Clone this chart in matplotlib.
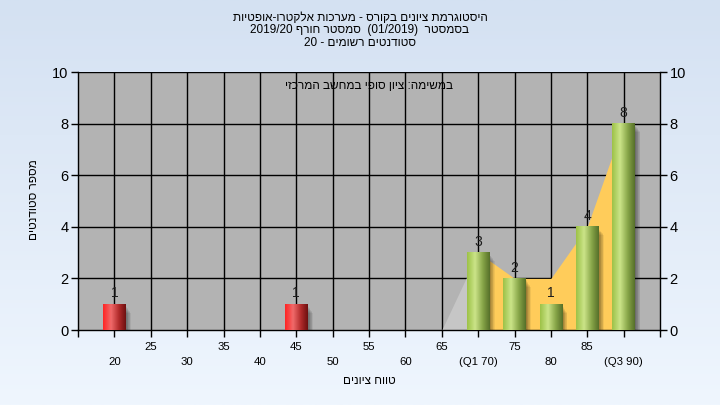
import re
import numpy as np
import matplotlib
matplotlib.use('Agg')
import matplotlib.pyplot as plt
from matplotlib.colors import LinearSegmentedColormap
from matplotlib.patches import Rectangle

plt.rcParams['font.family'] = ['Liberation Sans', 'DejaVu Sans']

# ---------------- data ----------------
title_lines = [
    "היסטוגרמת ציונים בקורס - מערכות אלקטרו-אופטיות",
    "בסמסטר  (01/2019)  סמסטר חורף 2019/20",
    "סטודנטים רשומים - 20",
]
note_text = "במשימה: ציון סופי במחשב המרכזי"
x_title = "טווח ציונים"
y_title = "מספר סטודנטים"

grades = [20, 45, 70, 75, 80, 85, 90]
counts = [1, 1, 3, 2, 1, 4, 8]
bar_kind = ['fail', 'fail', 'pass', 'pass', 'pass', 'pass', 'pass']

area_x = [65, 70, 75, 80, 85, 90]
area_y = [0, 3, 2, 2, 4, 8]
q1, q3 = 70, 90

x_tick_values = [20, 25, 30, 35, 40, 45, 50, 55, 60, 65, 70, 75, 80, 85, 90]
x_tick_labels = ['20', '25', '30', '35', '40', '45', '50', '55', '60', '65',
                 '(Q1 70)', '75', '80', '85', '(Q3 90)']
y_ticks = [0, 2, 4, 6, 8, 10]


def visual(s):
    """Convert logical RTL text into visual order for LTR rendering."""
    r = s[::-1]
    r = r.translate(str.maketrans('()', ')('))
    return re.sub(r'[0-9A-Za-z/.]+', lambda m: m.group(0)[::-1], r)


# ---------------- figure ----------------
fig = plt.figure(figsize=(7.2, 4.05), dpi=100)

bg = fig.add_axes([0, 0, 1, 1], zorder=-10)
top = np.array([212, 225, 242]) / 255
bot = np.array([239, 246, 254]) / 255
t = np.linspace(0, 1, 200)[:, None, None]
grad = top * (1 - t) + bot * t
bg.imshow(grad, aspect='auto', extent=[0, 1, 0, 1], origin='upper')
bg.set_axis_off()

ax = fig.add_axes([78 / 720, 75 / 405, 582 / 720, 258 / 405])
ax.set_facecolor('#b3b3b3')
XMIN, XMAX = 15, 95
ax.set_xlim(XMIN, XMAX)
ax.set_ylim(0, 10)

# grid
for gx in range(20, 95, 5):
    ax.axvline(gx, color='black', lw=1.0, zorder=1)
for gy in y_ticks[1:]:
    ax.axhline(gy, color='black', lw=1.0, zorder=1)

# area series
i1 = area_x.index(q1)
i3 = area_x.index(q3)
ax.fill_between(area_x[:i1 + 1], area_y[:i1 + 1], 0, color='#c6c6c6', lw=0, zorder=2)
ax.fill_between(area_x[i1:i3 + 1], area_y[i1:i3 + 1], 0, color='#ffcc5a', lw=0, zorder=2)

# bars
cmaps = {
    'pass': LinearSegmentedColormap.from_list(
        'g', [(0, '#9dc248'), (0.35, '#cbe488'), (0.7, '#86a447'), (1, '#56702a')]),
    'fail': LinearSegmentedColormap.from_list(
        'r', [(0, '#ff2424'), (0.35, '#f06a6a'), (0.7, '#b02a2a'), (1, '#6e1010')]),
}
bw = 3.1
gradient = np.linspace(0, 1, 64).reshape(1, -1)
for g, c, k in zip(grades, counts, bar_kind):
    x0 = g - bw / 2
    # soft shadow (layered)
    for j in range(8):
        ax.add_patch(Rectangle((x0 + 0.1 + 0.09 * j, -0.3), bw,
                               c - 0.08 - 0.035 * j + 0.3,
                               facecolor='black', alpha=0.06, lw=0, zorder=3))
    ax.imshow(gradient, cmap=cmaps[k], extent=[x0, x0 + bw, 0, c],
              aspect='auto', interpolation='bilinear', zorder=4)
    ax.text(g, c + 0.15, str(c), ha='center', va='bottom', fontsize=10,
            color='#1c1c1c', zorder=6)

ax.set_xlim(XMIN, XMAX)
ax.set_ylim(0, 10)

# axes styling
for s in ['left', 'bottom', 'right']:
    ax.spines[s].set_color('black')
    ax.spines[s].set_linewidth(1.0)
ax.spines['top'].set_visible(False)

ax.set_xticks(list(range(15, 96, 5)))
ax.set_xticklabels([])
ax.tick_params(axis='x', direction='out', length=5, width=1, color='black')
ax.set_yticks(y_ticks)
ax.tick_params(axis='y', direction='out', length=5, width=1, color='black',
               labelsize=10.5, pad=2)

ax2 = ax.twinx()
ax2.set_ylim(0, 10)
ax2.set_yticks(y_ticks)
ax2.tick_params(axis='y', direction='out', length=5, width=1, color='black',
                labelsize=10.5, pad=2)
for s in ax2.spines.values():
    s.set_visible(False)

# two-row x tick labels
for i, (v, lab) in enumerate(zip(x_tick_values, x_tick_labels)):
    off = -17 if i % 2 == 1 else -32
    ax.annotate(lab, xy=(v, 0), xycoords=('data', 'axes fraction'),
                xytext=(0, off * 0.72), textcoords='offset points',
                ha='center', va='center', fontsize=8.2, color='black')

# titles and labels
for k, line in enumerate(title_lines):
    fig.text(360 / 720, 1 - (18 + 12.5 * k) / 405, visual(line), ha='center',
             va='center', fontsize=8.5, color='black')

ax.text(0.5, 1 - 14 / 258, visual(note_text), transform=ax.transAxes,
        ha='center', va='center', fontsize=8.5, color='black', zorder=7)

fig.text(369 / 720, 1 - 381 / 405, visual(x_title), ha='center', va='center',
         fontsize=8.5, color='black')
fig.text(34 / 720, 1 - 200 / 405, visual(y_title), ha='center', va='center',
         rotation=90, fontsize=8.5, color='black')

fig.savefig('out.png', dpi=100)
